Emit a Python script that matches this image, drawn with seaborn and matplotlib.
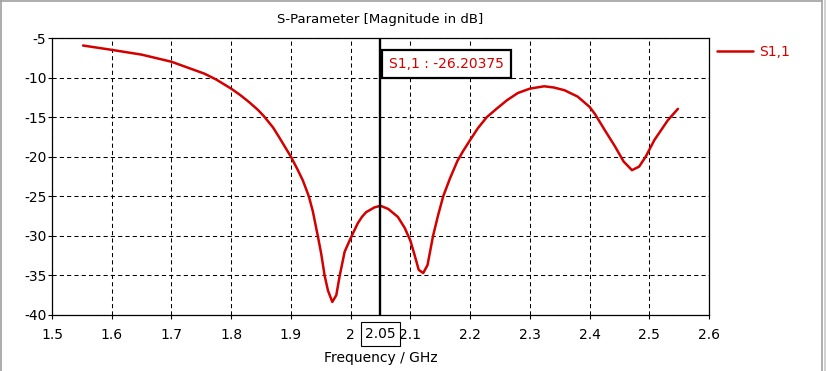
import numpy as np
import pandas as pd
import seaborn as sns
import matplotlib.pyplot as plt
from matplotlib.lines import Line2D

# ---- data ----
freq_ghz = [1.552, 1.6, 1.65, 1.7, 1.755, 1.775, 1.8, 1.815, 1.83, 1.845,
            1.855, 1.87, 1.88, 1.89, 1.90, 1.911, 1.92, 1.930, 1.9367, 1.945,
            1.9507, 1.9564, 1.962, 1.9693, 1.976, 1.9818, 1.990, 2.0, 2.012, 2.019,
            2.026, 2.04, 2.05, 2.063, 2.079, 2.0906, 2.10, 2.107, 2.114, 2.1215,
            2.1287, 2.138, 2.1464, 2.155, 2.166, 2.179, 2.1886, 2.20, 2.213, 2.228,
            2.245, 2.262, 2.28, 2.30, 2.324, 2.34, 2.358, 2.38, 2.40, 2.409,
            2.426, 2.443, 2.457, 2.471, 2.483, 2.494, 2.5085, 2.531, 2.548]
s11_db = [-5.95, -6.5, -7.1, -8.0, -9.5, -10.25, -11.4, -12.2, -13.1, -14.1,
          -14.9, -16.3, -17.5, -18.75, -20.0, -21.6, -23.0, -25.0, -26.9, -30.0,
          -32.25, -35.0, -36.9, -38.35, -37.5, -35.0, -32.0, -30.3, -28.4, -27.6,
          -27.0, -26.4, -26.2, -26.6, -27.6, -29.0, -30.6, -32.4, -34.3, -34.7,
          -33.7, -30.0, -27.4, -25.0, -22.8, -20.5, -19.25, -17.9, -16.4, -15.0,
          -13.9, -12.85, -11.95, -11.4, -11.1, -11.25, -11.6, -12.4, -13.7, -14.6,
          -16.7, -18.75, -20.6, -21.7, -21.25, -20.0, -17.9, -15.4, -13.95]
series_name = "S1,1"
marker_freq = 2.05
marker_value = -26.20375
x_ticks = [1.5, 1.6, 1.7, 1.8, 1.9, 2.0, 2.1, 2.2, 2.3, 2.4, 2.5, 2.6]
x_tick_labels = ["1.5", "1.6", "1.7", "1.8", "1.9", "2", "2.1", "2.2", "2.3", "2.4", "2.5", "2.6"]
y_ticks = [-40, -35, -30, -25, -20, -15, -10, -5]
title = "S-Parameter [Magnitude in dB]"
x_label = "Frequency / GHz"

df = pd.DataFrame({"freq": freq_ghz, "s11": s11_db})

sns.set_theme(style="white")
plt.rcParams["font.family"] = ["DejaVu Sans"]
plt.rcParams["axes.unicode_minus"] = False

RED = "#d40000"
W, H = 829, 371
fig = plt.figure(figsize=(W / 100, H / 100), dpi=100)
fig.patch.set_facecolor("white")
L, R, T, B = 52, 709, 38, 315
ax = fig.add_axes([L / W, 1 - B / H, (R - L) / W, (B - T) / H])
ax.set_facecolor("white")

sns.lineplot(data=df, x="freq", y="s11", ax=ax, color=RED, linewidth=1.8,
             label=series_name, sort=False, estimator=None)
ax.lines[0].set_solid_joinstyle("round")

ax.set_xlim(1.5, 2.6)
ax.set_ylim(-40, -5)
ax.set_xticks(x_ticks)
ax.set_xticklabels(x_tick_labels)
ax.set_yticks(y_ticks)
ax.set_yticklabels([str(v) for v in y_ticks])
ax.tick_params(axis="both", which="major", labelsize=10, colors="black",
               length=3, width=0.8, direction="out")
ax.tick_params(axis="x", pad=6.5)
ax.tick_params(axis="y", pad=1)
ax.tick_params(bottom=True, left=True)
for sp in ax.spines.values():
    sp.set_color("black")
    sp.set_linewidth(0.9)
ax.grid(True, color="black", linestyle=(0, (4, 3)), linewidth=0.75)
ax.set_axisbelow(True)

ax.set_xlabel(x_label, fontsize=10, color="black", labelpad=6)
ax.set_ylabel("")

fig.text(380 / W, 1 - 20 / H, title, ha="center", va="center", fontsize=9.5, color="black")

# marker line
ax.axvline(marker_freq, color="black", linewidth=1.7, zorder=5)
fig.text(446.5 / W, 1 - 64 / H, f"{series_name} : {marker_value:.5f}", ha="center", va="center",
         fontsize=10, color=RED, zorder=10,
         bbox=dict(boxstyle="square,pad=0.5", fc="white", ec="black", lw=1.6))
ax.annotate(f"{marker_freq:.2f}", xy=(marker_freq, 0), xycoords=("data", "axes fraction"),
            xytext=(0, -19), textcoords="offset pixels", ha="center", va="center",
            fontsize=10, color="black", annotation_clip=False, zorder=10,
            bbox=dict(boxstyle="square,pad=0.33", fc="white", ec="black", lw=0.8))

leg = ax.legend(loc="center left", bbox_to_anchor=(717 / W, 1 - 52 / H),
                bbox_transform=fig.transFigure, frameon=False, fontsize=10,
                handlelength=2.6, handletextpad=0.4, borderpad=0, borderaxespad=0,
                labelcolor="linecolor")

# window border
for (xs, ys, c) in [([0.5, 822], [H - 1, H - 1], "#a0a0a0"),
                    ([0.8, 0.8], [0, H], "#a0a0a0"),
                    ([822, 822], [0, H], "#a0a0a0"),
                    ([825, 825], [0, H], "#c8c8c8")]:
    fig.add_artist(Line2D([x / W for x in xs], [y / H for y in ys], color=c, lw=1.2))

fig.savefig("out.png", dpi=100, facecolor="white")
